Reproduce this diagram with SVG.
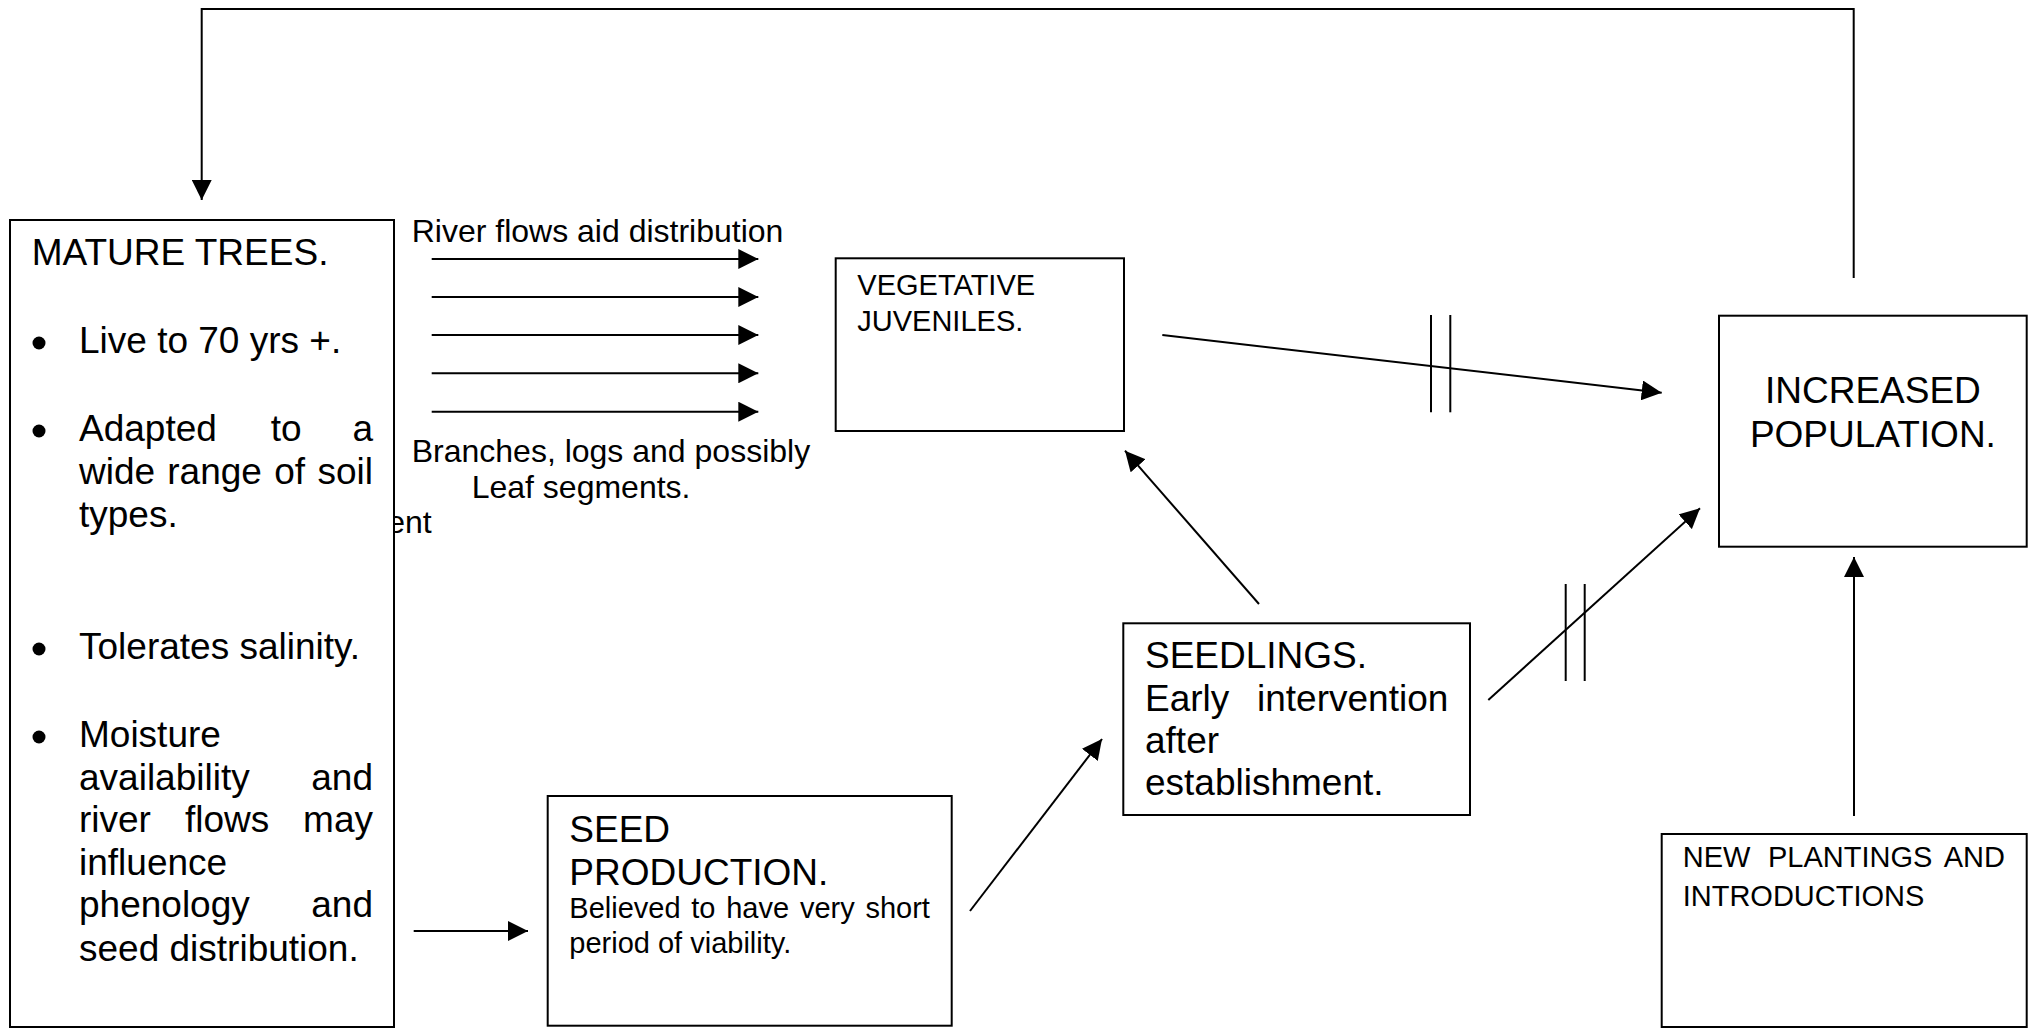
<svg xmlns="http://www.w3.org/2000/svg" width="2040" height="1028" viewBox="0 0 2040 1028">
<defs>
<style>
.box{fill:#fff;stroke:#000;stroke-width:2}
.ln{fill:none;stroke:#000;stroke-width:2}
.arr{fill:none;stroke:#000;stroke-width:2;marker-end:url(#ah)}
text{font-family:"Liberation Sans",Arial,sans-serif;fill:#000}
.t37{font-size:37px}
.t32{font-size:32px}
.t29{font-size:29px}
.e{text-anchor:end}
.m{text-anchor:middle}
</style>
<marker id="ah" markerUnits="userSpaceOnUse" markerWidth="21" markerHeight="20" refX="20" refY="10" orient="auto" viewBox="0 0 21 20">
<path d="M0,0 L20,10 L0,20 Z" fill="#000"/>
</marker>
</defs>
<rect width="2040" height="1028" fill="#fff"/>

<g id="connectors">
<polyline class="arr" points="1853.7,278 1853.7,9 201.7,9 201.7,200"/>
<line class="arr" x1="431.7" y1="259" x2="758.3" y2="259"/>
<line class="arr" x1="431.7" y1="297" x2="758.3" y2="297"/>
<line class="arr" x1="431.7" y1="335" x2="758.3" y2="335"/>
<line class="arr" x1="431.7" y1="373.3" x2="758.3" y2="373.3"/>
<line class="arr" x1="431.7" y1="411.7" x2="758.3" y2="411.7"/>
<line class="arr" x1="1162.3" y1="335" x2="1661.7" y2="392.7"/>
<line class="ln" x1="1431" y1="315" x2="1431" y2="412.3"/>
<line class="ln" x1="1450.3" y1="315" x2="1450.3" y2="412.3"/>
<line class="arr" x1="1488.3" y1="700" x2="1700" y2="508.3"/>
<line class="ln" x1="1565.7" y1="584" x2="1565.7" y2="681"/>
<line class="ln" x1="1584.7" y1="584" x2="1584.7" y2="681"/>
<line class="arr" x1="1259" y1="604" x2="1125" y2="450.7"/>
<line class="arr" x1="413.7" y1="931" x2="528" y2="931"/>
<line class="arr" x1="970" y1="911" x2="1102" y2="739"/>
<line class="arr" x1="1854" y1="816" x2="1854" y2="557"/>
</g>

<g id="labels">
<text class="t32" x="411.7" y="241.7">River flows aid distribution</text>
<text class="t32" x="411.7" y="461.7">Branches, logs and possibly</text>
<text class="t32" x="471.7" y="498.3">Leaf segments.</text>
<text class="t32 e" x="431.7" y="533.3">ent</text>
</g>

<g id="mature-trees">
<rect class="box" x="10" y="220" width="384" height="807"/>
<text class="t37" x="31.7" y="265">MATURE TREES.</text>
<g fill="#000">
<circle cx="39" cy="343" r="6.5"/>
<circle cx="39" cy="431" r="6.5"/>
<circle cx="39" cy="649" r="6.5"/>
<circle cx="39" cy="737" r="6.5"/>
</g>
<text class="t37" x="79" y="353">Live to 70 yrs +.</text>
<text class="t37" y="441"><tspan x="79">Adapted</tspan><tspan x="270.7">to</tspan></text>
<text class="t37 e" x="373" y="441">a</text>
<text class="t37" y="484"><tspan x="79">wide</tspan><tspan x="167.3">range</tspan><tspan x="274.2">of</tspan></text>
<text class="t37 e" x="373" y="484">soil</text>
<text class="t37" x="79" y="527">types.</text>
<text class="t37" x="79" y="659">Tolerates salinity.</text>
<text class="t37" x="79" y="747">Moisture</text>
<text class="t37" x="79" y="789.5">availability</text>
<text class="t37 e" x="373" y="789.5">and</text>
<text class="t37" y="832"><tspan x="79">river</tspan><tspan x="185">flows</tspan></text>
<text class="t37 e" x="373" y="832">may</text>
<text class="t37" x="79" y="874.5">influence</text>
<text class="t37" x="79" y="917">phenology</text>
<text class="t37 e" x="373" y="917">and</text>
<text class="t37" x="79" y="961">seed distribution.</text>
</g>

<g id="vegetative-juveniles">
<rect class="box" x="835.7" y="258.3" width="288.3" height="172.7"/>
<text class="t29" x="857.3" y="295">VEGETATIVE</text>
<text class="t29" x="857.3" y="331">JUVENILES.</text>
</g>

<g id="seed-production">
<rect class="box" x="547.7" y="796" width="404" height="229.7"/>
<text class="t37" x="569.3" y="841.7">SEED</text>
<text class="t37" x="569.3" y="885">PRODUCTION.</text>
<text class="t29" x="569.3" y="918.3" word-spacing="2.7">Believed to have very short</text>
<text class="t29" x="569.3" y="953.3">period of viability.</text>
</g>

<g id="seedlings">
<rect class="box" x="1123.3" y="623.3" width="346.7" height="191.7"/>
<text class="t37" x="1145" y="668.3">SEEDLINGS.</text>
<text class="t37" x="1145" y="711">Early</text>
<text class="t37 e" x="1448.3" y="711">intervention</text>
<text class="t37" x="1145" y="753.3">after</text>
<text class="t37" x="1145" y="795">establishment.</text>
</g>

<g id="increased-population">
<rect class="box" x="1719" y="315.7" width="307.7" height="231"/>
<text class="t37 m" x="1872.9" y="403.3">INCREASED</text>
<text class="t37 m" x="1872.9" y="446.7">POPULATION.</text>
</g>

<g id="new-plantings">
<rect class="box" x="1661.7" y="834" width="365" height="193"/>
<text class="t29" y="866.7"><tspan x="1682.7">NEW</tspan><tspan x="1768">PLANTINGS</tspan></text>
<text class="t29 e" x="2005" y="866.7">AND</text>
<text class="t29" x="1682.7" y="906">INTRODUCTIONS</text>
</g>
</svg>
